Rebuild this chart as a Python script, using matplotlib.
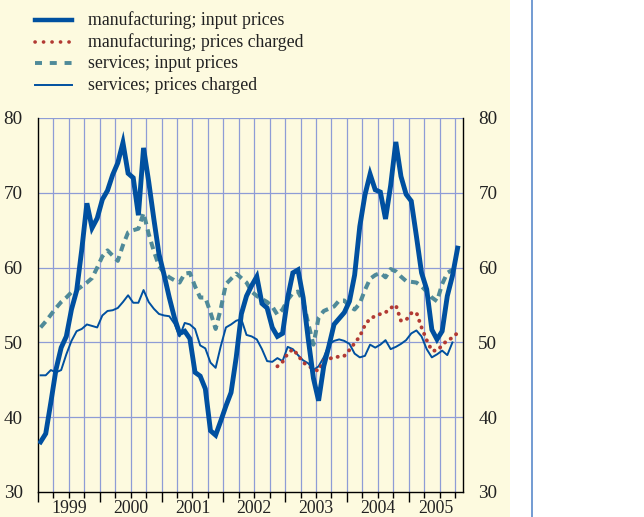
import matplotlib
matplotlib.use("Agg")
import matplotlib.pyplot as plt
from matplotlib.lines import Line2D
import numpy as np

# ---------------- data (monthly, starting Jan 1999) ----------------
start_year = 1999
years = [1999, 2000, 2001, 2002, 2003, 2004, 2005]

mfg_input = [36.7, 37.8, 42.0, 46.4, 49.3, 50.8, 54.4, 56.9, 62.4, 68.6,
             65.3, 66.6, 69.1, 70.3, 72.4, 74.0, 76.7, 72.6, 72.0, 67.0,
             76.0, 71.5, 66.5, 61.8, 59.0, 56.0, 53.3, 51.2, 51.5, 50.5,
             46.0, 45.5, 43.8, 38.2, 37.6, 39.5, 41.5, 43.3, 48.0, 53.8,
             56.2, 57.6, 58.8, 55.2, 54.6, 52.0, 50.8, 51.2, 56.0, 59.3,
             59.7, 56.0, 50.4, 45.2, 42.2, 46.8, 49.5, 52.4, 53.2, 54.0,
             55.5, 59.0, 65.5, 69.7, 72.5, 70.4, 70.1, 66.5, 71.0, 76.8,
             72.2, 69.8, 68.9, 64.2, 59.3, 57.1, 51.7, 50.4, 51.5, 56.2,
             58.9, 62.6]

mfg_charged_start = 46   # first month index of the series (Nov 2002)
mfg_charged = [46.8, 47.4, 48.5, 49.1, 48.3, 47.3, 46.9, 46.4, 46.2, 47.6,
               47.8, 48.0, 48.1, 48.2, 49.0, 49.9, 50.8, 52.3, 53.2, 53.5,
               53.8, 54.0, 54.6, 55.0, 52.9, 53.0, 53.9, 54.0, 52.0, 50.3,
               48.9, 48.9, 49.6, 50.3, 50.6, 51.3]

srv_input = [52.0, 52.8, 53.7, 54.6, 55.4, 56.0, 56.7, 57.0, 57.5, 58.0,
             58.6, 60.0, 61.5, 62.3, 61.6, 60.9, 63.0, 64.7, 65.0, 65.2,
             67.3, 64.5, 62.2, 60.2, 59.3, 58.7, 58.3, 58.0, 59.2, 59.3,
             57.5, 56.0, 56.0, 54.0, 51.8, 54.5, 57.8, 58.5, 59.2, 58.6,
             58.0, 56.8, 56.2, 55.8, 55.4, 54.8, 53.7, 54.4, 55.7, 56.6,
             56.8, 55.5, 52.5, 49.7, 53.3, 54.2, 54.5, 54.8, 55.6, 55.6,
             54.8, 54.4, 55.2, 57.0, 58.5, 59.0, 59.3, 58.7, 59.8, 59.5,
             58.8, 58.2, 58.1, 58.0, 57.5, 56.8, 56.0, 55.5, 57.8, 59.3,
             59.7]

srv_charged = [45.6, 45.6, 46.3, 46.0, 46.3, 48.4, 50.2, 51.5, 51.8, 52.4,
               52.2, 52.0, 53.6, 54.2, 54.3, 54.6, 55.4, 56.3, 55.3, 55.3,
               57.0, 55.4, 54.5, 53.8, 53.6, 53.5, 52.5, 50.8, 52.6, 52.4,
               51.8, 49.6, 49.2, 47.3, 46.6, 49.5, 52.0, 52.4, 52.9, 53.1,
               51.0, 50.8, 50.4, 49.1, 47.5, 47.4, 47.9, 47.5, 49.4, 49.1,
               48.3, 47.6, 47.2, 46.3, 46.8, 48.0, 49.7, 50.2, 50.4, 50.2,
               49.8, 48.5, 48.0, 48.2, 49.7, 49.3, 49.7, 50.3, 49.1, 49.4,
               49.8, 50.3, 51.2, 51.6, 50.8, 49.1, 48.0, 48.4, 48.9, 48.3,
               50.0]

labels = ["manufacturing; input prices", "manufacturing; prices charged",
          "services; input prices", "services; prices charged"]
y_ticks = [30, 40, 50, 60, 70, 80]

# ---------------- styling ----------------
CREAM = "#FDFADF"
BLUE = "#0050A0"
TEAL = "#4F8A99"
RED = "#B23A33"
GRID = "#8E9CD6"
SERIF = ["Liberation Serif", "DejaVu Serif"]

plt.rcParams["font.family"] = SERIF

fig = plt.figure(figsize=(6.44, 5.17), dpi=100)
fig.patch.set_facecolor("white")
# cream panel and blue rule on the right
fig.patches.append(plt.Rectangle((0, 0), 510 / 644, 1, transform=fig.transFigure,
                                 facecolor=CREAM, edgecolor="none", zorder=-5))
fig.lines.append(Line2D([532 / 644, 532 / 644], [0, 1], transform=fig.transFigure,
                        color="#5A8ACB", lw=1.2, zorder=-4))

ax = fig.add_axes([38 / 644, 1 - 492 / 517, (463 - 38) / 644, (492 - 118) / 517])
ax.set_facecolor(CREAM)
ax.set_zorder(1)

x_mi = np.arange(len(mfg_input)) + 0.5
x_mc = np.arange(len(mfg_charged)) + mfg_charged_start + 0.5
x_si = np.arange(len(srv_input)) + 0.5
x_sc = np.arange(len(srv_charged)) + 0.5

ax.plot(x_si, srv_input, color=TEAL, lw=2.9, linestyle=(0, (1.9, 1.3)), zorder=3)
ax.plot(x_sc, srv_charged, color=BLUE, lw=1.4, zorder=4)
ax.plot(x_mc, mfg_charged, color=RED, lw=2.8, linestyle=(0, (0.05, 1.75)),
        dash_capstyle="round", zorder=5)
ax.plot(x_mi, mfg_input, color=BLUE, lw=3.5, solid_joinstyle="miter", zorder=6)

ax.set_xlim(0.3, 82.55)
ax.set_ylim(30, 80)

# grid: quarters vertical, y ticks horizontal
for q in range(3, 83, 3):
    ax.axvline(q, color=GRID, lw=0.9, zorder=1)
for yv in y_ticks[1:]:
    ax.axhline(yv, color=GRID, lw=0.9, zorder=1)

ax.spines["top"].set_visible(False)
for s in ["left", "right", "bottom"]:
    ax.spines[s].set_color("black")
    ax.spines[s].set_linewidth(1.0)

ax.set_yticks(y_ticks)
ax.tick_params(axis="y", which="both", length=0, labelsize=13.8, pad=11,
               labelleft=True, labelright=True, colors="#222222")
ax.set_xticks([12 * k for k in range(len(years))])
ax.set_xticks(range(3, 83, 3), minor=True)
ax.tick_params(axis="x", which="major", length=7, width=1.0, labelbottom=False)
ax.tick_params(axis="x", which="minor", length=4, width=1.0)

# year labels centred on visible part of each year
x0, x1 = ax.get_xlim()
for k, yr in enumerate(years):
    a = max(12 * k, x0)
    b = min(12 * (k + 1), x1)
    ax.annotate(str(yr), xy=((a + b) / 2, 0), xycoords=("data", "axes fraction"),
                xytext=(0, -5.5), textcoords="offset points", ha="center", va="top",
                fontsize=12.8, color="#222222", annotation_clip=False)

# legend (manual, figure coordinates)
styles = [dict(color=BLUE, lw=3.2),
          dict(color=RED, lw=2.6, linestyle=(0, (0.05, 2.3)), dash_capstyle="round"),
          dict(color=TEAL, lw=2.8, linestyle=(0, (1.8, 2.0))),
          dict(color=BLUE, lw=1.4)]
rows_y = [20.5, 42.3, 63.3, 85.0]
for lab, st, yy in zip(labels, styles, rows_y):
    yf = 1 - yy / 517
    fig.lines.append(Line2D([35 / 644, 72 / 644], [yf, yf], transform=fig.transFigure, **st))
    fig.text(88 / 644, yf, lab, fontsize=12.8, va="center", ha="left", color="#222222")

fig.savefig("out.png", dpi=100, facecolor=fig.get_facecolor())
